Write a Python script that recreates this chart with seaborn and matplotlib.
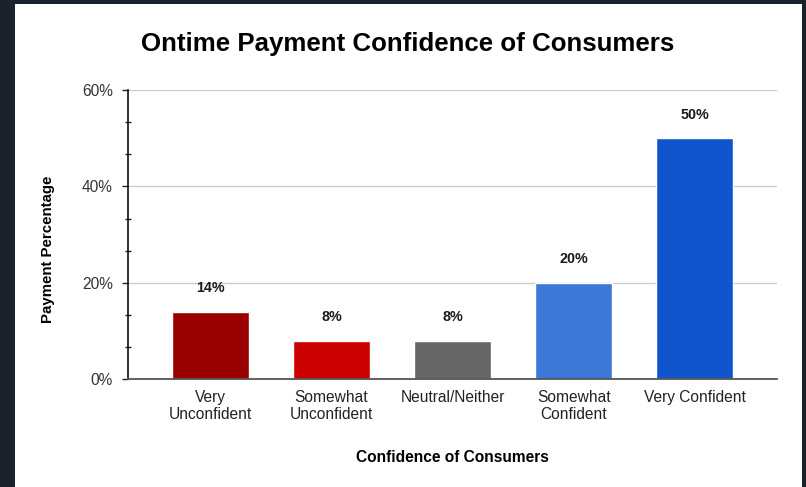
import matplotlib
matplotlib.use("Agg")
import matplotlib.pyplot as plt
from matplotlib.patches import Rectangle
from matplotlib.ticker import FixedLocator, FuncFormatter
import pandas as pd
import seaborn as sns

# Survey results
categories = ["Very\nUnconfident", "Somewhat\nUnconfident", "Neutral/Neither",
              "Somewhat\nConfident", "Very Confident"]
percentages = [14, 8, 8, 20, 50]
bar_colors = ["#990000", "#cc0000", "#666666", "#3c78d8", "#1155cc"]
y_ticks = [0, 20, 40, 60]

sns.set_theme(style="white")
plt.rcParams["font.family"] = ["Liberation Sans", "DejaVu Sans"]

W, H = 806, 487
fig = plt.figure(figsize=(W / 100, H / 100), dpi=100, facecolor="#1b212d")

# white card inside the dark frame
fig.patches.append(Rectangle((15 / W, 0), (802 - 15) / W, (H - 4) / H,
                             transform=fig.transFigure, facecolor="white",
                             edgecolor="none", zorder=-10))

ax = fig.add_axes([128 / W, (H - 379.3) / H, (777 - 128) / W, (379.3 - 90) / H])
ax.set_zorder(1)
ax.set_facecolor("none")

df = pd.DataFrame({"category": categories, "pct": percentages})
sns.barplot(data=df, x="category", y="pct", hue="category",
            palette=bar_colors, legend=False, width=0.64,
            saturation=1, ax=ax, zorder=3)

ax.set_xlim(-0.68, 4.68)
ax.set_ylim(0, 60)

# value labels above each bar
for i, v in enumerate(percentages):
    ax.annotate(f"{v}%", (i, v), xytext=(0, 17), textcoords="offset points",
                ha="center", va="center", fontsize=10.3, fontweight="bold",
                color="#1a1a1a")

# y axis: major ticks every 20%, two minor ticks in between
ax.yaxis.set_major_locator(FixedLocator(y_ticks))
ax.yaxis.set_minor_locator(FixedLocator([t for k in range(3)
                                         for t in (20 * k + 20 / 3, 20 * k + 40 / 3)]))
ax.yaxis.set_major_formatter(FuncFormatter(lambda v, _: f"{v:.0f}%"))
ax.tick_params(axis="y", which="major", direction="out", length=4.5, width=1,
               color="#222222", labelsize=11.2, labelcolor="#333333", pad=6.5, left=True)
ax.tick_params(axis="y", which="minor", direction="inout", length=5, width=1,
               color="#222222", left=True)
ax.tick_params(axis="x", length=0, labelsize=11.2, labelcolor="#222222", pad=8)
for lbl in ax.get_xticklabels():
    lbl.set_linespacing(1.1)

ax.grid(axis="y", which="major", color="#cccccc", linewidth=1, zorder=0)
ax.set_axisbelow(True)

for side in ("top", "right"):
    ax.spines[side].set_visible(False)
ax.spines["left"].set_color("#111111")
ax.spines["left"].set_linewidth(1.2)
ax.spines["left"].set_zorder(4)
ax.spines["bottom"].set_color("#555555")
ax.spines["bottom"].set_linewidth(1.3)
ax.spines["bottom"].set_zorder(4)

ax.set_xlabel("")
ax.set_ylabel("")

fig.text(408 / W, 1 - 44 / H, "Ontime Payment Confidence of Consumers",
         ha="center", va="center", fontsize=18.6, fontweight="bold", color="black")
fig.text(452.5 / W, 1 - 457 / H, "Confidence of Consumers",
         ha="center", va="center", fontsize=11.2, fontweight="bold", color="black")
fig.text(48 / W, 1 - 249 / H, "Payment Percentage", rotation=90,
         ha="center", va="center", fontsize=10.8, fontweight="bold", color="black")

fig.savefig("out.png", dpi=100, facecolor=fig.get_facecolor())
